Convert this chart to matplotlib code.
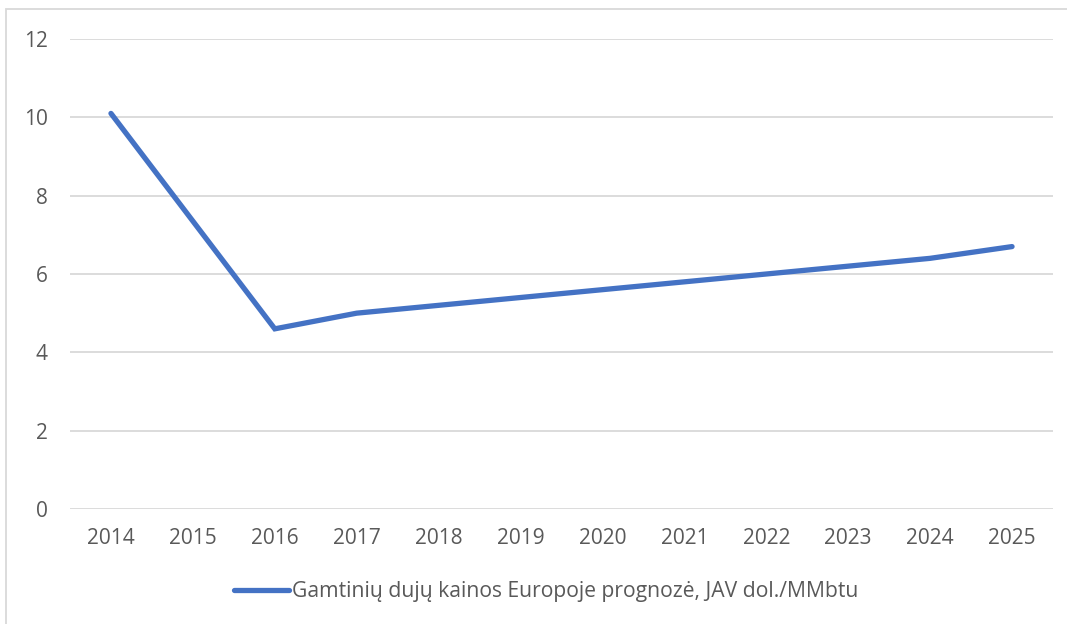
import matplotlib
matplotlib.use('Agg')
import matplotlib.pyplot as plt
from matplotlib.patches import Rectangle

# ── Data ──────────────────────────────────────────────────────────────────────
years  = [2014, 2015, 2016, 2017, 2018, 2019, 2020, 2021, 2022, 2023, 2024, 2025]
prices = [10.1, 7.35, 4.6, 5.0, 5.2, 5.4, 5.6, 5.8, 6.0, 6.2, 6.4, 6.7]
yticks = [0, 2, 4, 6, 8, 10, 12]
series_label = 'Gamtinių dujų kainos Europoje prognozė, JAV dol./MMbtu'

# ── Style ─────────────────────────────────────────────────────────────────────
plt.rcParams.update({
    'font.family': ['Open Sans', 'DejaVu Sans'],
    'font.size':   15,
})
C_LINE = '#4472C4'
C_GRID = '#d9d9d9'
C_TEXT = '#595959'

W, H = 1067, 624
fig = plt.figure(figsize=(W / 100, H / 100), dpi=100)
ax = fig.add_axes([70 / W, 1 - 509 / H, (1053 - 70) / W, (509 - 39) / H])

x = list(range(len(years)))
line, = ax.plot(x, prices, color=C_LINE, linewidth=3.8,
                solid_capstyle='round', solid_joinstyle='miter',
                label=series_label, zorder=3)

ax.set_xlim(-0.5, len(years) - 0.5)
ax.set_ylim(0, 12)
ax.set_xticks(x)
ax.set_xticklabels([str(y) for y in years])
ax.set_yticks(yticks)

for s in ax.spines.values():
    s.set_visible(False)
ax.yaxis.grid(True, color=C_GRID, linewidth=1.3)
ax.set_axisbelow(True)
ax.tick_params(axis='both', length=0, colors=C_TEXT, labelsize=15)
ax.tick_params(axis='y', pad=16)
ax.tick_params(axis='x', pad=14)

# outer chart frame (only left and top edges visible in the crop)
fig.patches.append(Rectangle((6 / W, -0.1), 1.2, 1.1 - 9 / H,
                             transform=fig.transFigure, fill=False,
                             edgecolor=C_GRID, linewidth=1.3))

leg = fig.legend(handles=[line], loc='center', bbox_to_anchor=(546 / W, 1 - 592 / H),
                 frameon=False, handlelength=2.6, handletextpad=0.15,
                 fontsize=15.2, labelcolor=C_TEXT)

fig.savefig('out.png', dpi=100)
